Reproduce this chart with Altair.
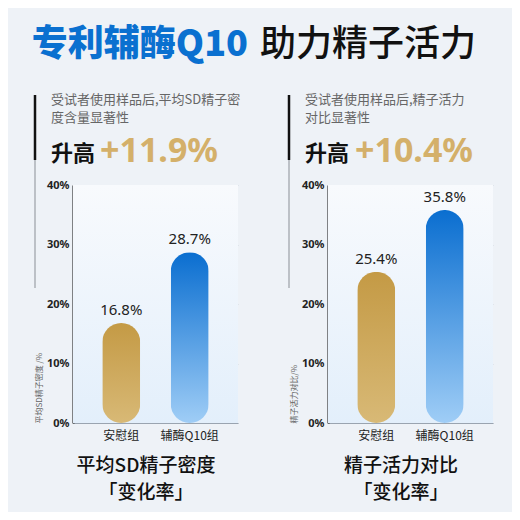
import altair as alt
import pandas as pd

groups = ["安慰组", "辅酶Q10组"]
left_values = [16.8, 28.7]
right_values = [25.4, 35.8]
left_labels = ["16.8%", "28.7%"]
right_labels = ["25.4%", "35.8%"]
y_ticks = [0, 10, 20, 30, 40]

title_blue = "专利辅酶Q10"
title_black = "助力精子活力"
left_sub = ["受试者使用样品后,平均SD精子密", "度含量显著性"]
right_sub = ["受试者使用样品后,精子活力", "对比显著性"]
rise_word = "升高"
left_rise = "+11.9%"
right_rise = "+10.4%"
left_ytitle = "平均SD精子密度 /%"
right_ytitle = "精子活力对比/%"
left_bottom = ["平均SD精子密度", "「变化率」"]
right_bottom = ["精子活力对比", "「变化率」"]

W, H = 165, 238
FONT = "Noto Sans CJK SC"
NUMFONT = "Noto Sans"

gold = alt.Gradient(gradient="linear", x1=0, x2=0, y1=0, y2=1,
                    stops=[alt.GradientStop(color="#c49a45", offset=0),
                           alt.GradientStop(color="#d8b976", offset=1)])
blue = alt.Gradient(gradient="linear", x1=0, x2=0, y1=0, y2=1,
                    stops=[alt.GradientStop(color="#0a6ed0", offset=0),
                           alt.GradientStop(color="#9fcdf6", offset=1)])
bgfill = alt.Gradient(gradient="linear", x1=0, x2=0, y1=0, y2=1,
                      stops=[alt.GradientStop(color="#f8fafd", offset=0),
                             alt.GradientStop(color="#e3effb", offset=1)])


def txt(text, x, y, size, color, weight="normal", align="left", baseline="middle", font=FONT):
    return alt.Chart(pd.DataFrame({"t": [text]})).mark_text(
        align=align, baseline=baseline, fontSize=size, color=color,
        fontWeight=weight, font=font
    ).encode(text="t:N", x=alt.value(x), y=alt.value(y))


def vline(x, y1, y2, color, width):
    return alt.Chart(pd.DataFrame({"a": [0]})).mark_rule(color=color, strokeWidth=width).encode(
        x=alt.value(x), y=alt.value(y1), y2=alt.value(y2))


def panel(values, labels, ytitle, sub, rise, bottom, title=False, lx=-38):
    df = pd.DataFrame({"g": groups, "v": values, "lab": labels})
    xenc = alt.X("g:N", sort=groups, title=None,
                 scale=alt.Scale(paddingInner=0.45, paddingOuter=0.43),
                 axis=alt.Axis(labelAngle=0, labelFontSize=12, labelColor="#222",
                               labelFont=FONT, labelPadding=7, ticks=False,
                               domainColor="#9aa4b0", domainWidth=1))
    yscale = alt.Scale(domain=[0, 40])
    yaxis = alt.Axis(values=y_ticks, labelExpr="datum.value + '%'", labelFontSize=11,
                     labelFontWeight="bold", labelColor="#222", labelFont=NUMFONT,
                     labelPadding=4, ticks=False, domainColor="#111", domainWidth=2,
                     grid=True, gridDash=[3, 3], gridColor="#d3d9e0",
                     title=ytitle, titleFontSize=8, titleFontWeight="normal",
                     titleColor="#666", titleFont=FONT, titleAngle=270,
                     titleAlign="left", titleBaseline="middle", titleX=-34, titleY=H)
    bg = alt.Chart(pd.DataFrame({"a": [0]})).mark_rect(color=bgfill).encode(
        x=alt.value(0), x2=alt.value(W), y=alt.value(0), y2=alt.value(H))
    base = alt.Chart(df)
    b1 = base.transform_filter(alt.datum.g == groups[0]).mark_bar(
        color=gold, cornerRadius=19, size=38).encode(
        x=xenc, y=alt.Y("v:Q", scale=yscale, axis=yaxis))
    b2 = base.transform_filter(alt.datum.g == groups[1]).mark_bar(
        color=blue, cornerRadius=19, size=38).encode(
        x=alt.X("g:N", sort=groups), y=alt.Y("v:Q"))
    vt = base.mark_text(baseline="bottom", dy=-5, fontSize=15, color="#222",
                        font=NUMFONT).encode(
        x=alt.X("g:N", sort=groups), y=alt.Y("v:Q"), text="lab:N")
    layers = [bg, b1, b2, vt,
              vline(lx, -90, -25, "#111", 2.5),
              vline(lx, -25, 103, "#8a8f96", 1),
              txt(sub[0], lx + 16, -85, 13, "#666"),
              txt(sub[1], lx + 16, -67, 13, "#666"),
              txt(rise_word, lx + 16, -24, 22, "#111", "bold", baseline="alphabetic"),
              txt(rise, 27, -23, 34, "#d4b06a", "bold", baseline="alphabetic", font=NUMFONT),
              txt(bottom[0], 73, 281, 19, "#111", 500, align="center"),
              txt(bottom[1], 73, 308, 19, "#111", 500, align="center")]
    if title:
        frame = alt.Chart(pd.DataFrame({"a": [0]})).mark_rect(opacity=0).encode(
            x=alt.value(-65), x2=alt.value(439), y=alt.value(-177), y2=alt.value(327))
        layers = [frame] + layers + [
            txt(title_blue, 175, -140, 36, "#0a70d0", 900, align="right"),
            txt(title_black, 187, -140, 36, "#111", 500, align="left")]
    return alt.layer(*layers).properties(width=W, height=H)


left = panel(left_values, left_labels, left_ytitle, left_sub, left_rise, left_bottom, title=True, lx=-38)
right = panel(right_values, right_labels, right_ytitle, right_sub, right_rise, right_bottom, lx=-39)

chart = alt.hconcat(left, right, spacing=90, bounds="flush").properties(
    background="#eef2f7", padding=0
).configure_view(stroke=None)

chart.save("out.html", embed_options={"renderer": "svg", "actions": False})
